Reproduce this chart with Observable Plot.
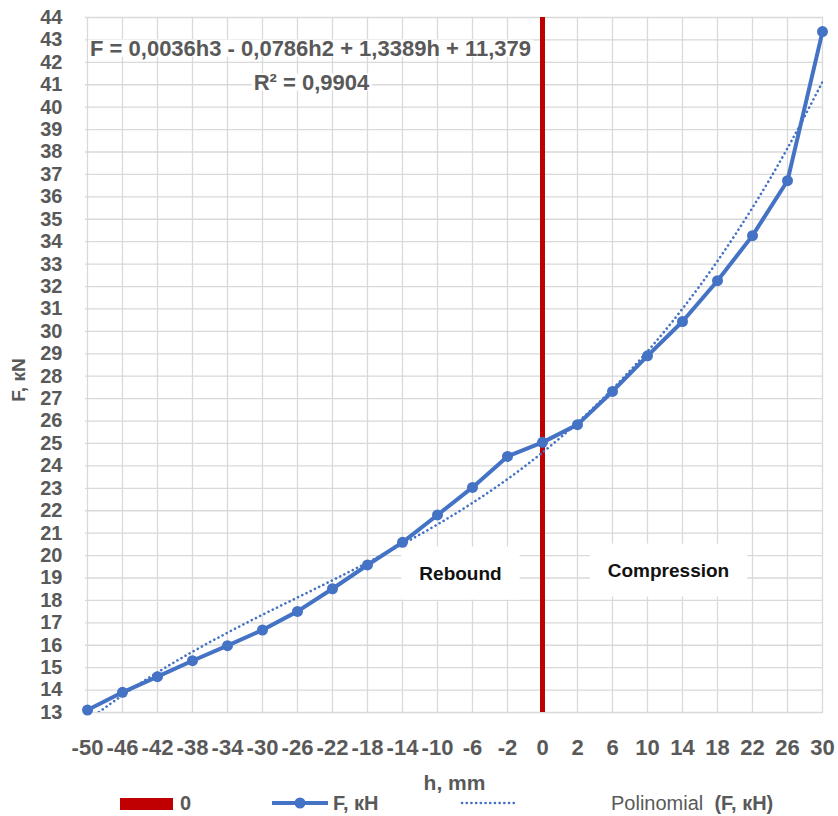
<!DOCTYPE html>
<html><head><meta charset="utf-8">
<script src="https://cdn.jsdelivr.net/npm/d3@7"></script>
<script src="https://cdn.jsdelivr.net/npm/@observablehq/plot@0.6"></script>
<style>
body{margin:0;background:#fff;}
#wrap{width:838px;position:relative;font-family:"Liberation Sans",Arial,sans-serif;}
#legend{position:relative;width:838px;height:26px;color:#595959;font-family:"Liberation Sans",Arial,sans-serif;}
#legend .it{position:absolute;top:0;height:26px;line-height:26px;font-size:20px;font-weight:bold;white-space:pre;}
#legend svg{position:absolute;top:0;}
</style></head><body>
<div id="wrap"><div id="chart"></div><div id="legend"></div></div>
<script>
// ---- data ----
const hLabels = ["-50","-46","-42","-38","-34","-30","-26","-22","-18","-14","-10","-6","-2","0","2","6","10","14","18","22","26","30"];
const forceValues = [13.11,13.90,14.60,15.31,15.98,16.68,17.51,18.52,19.58,20.59,21.81,23.04,24.42,25.05,25.84,27.32,28.91,30.44,32.26,34.27,36.72,43.37];
const trendValues = [12.64,13.77,14.79,15.71,16.56,17.36,18.13,18.90,19.69,20.51,21.39,22.35,23.41,24.60,25.93,27.43,29.11,31.01,33.14,35.52,38.17,41.13];
const yTicks = d3.range(13, 45);
const zeroLine = ["0"];
const equationLines = ["F = 0,0036h3 - 0,0786h2 + 1,3389h + 11,379", "R² = 0,9904"];
const regionLabels = ["Rebound", "Compression"];
const axisTitles = ["h, mm", "F, кN"];
const legendLabels = ["0", "F, кН", "Polinomial", "(F, кН)"];

const series = hLabels.map((h, i) => ({h, F: forceValues[i]}));
const trend = hLabels.map((h, i) => ({h, F: trendValues[i]}));

const BLUE = "#4472C4", RED = "#C00000", GRID = "#d9d9d9", FONT = "'Liberation Sans', Arial, sans-serif";

const chart = Plot.plot({
  width: 838, height: 790,
  marginLeft: 85, marginRight: 15, marginTop: 17, marginBottom: 78,
  style: {fontFamily: FONT, fontSize: "20px", fontWeight: "bold", color: "#595959", background: "#fff", overflow: "visible"},
  x: {type: "point", domain: hLabels, padding: 0, label: null},
  y: {domain: [13, 44], label: null},
  marks: [
    Plot.ruleY(yTicks, {stroke: GRID, strokeWidth: 1.3}),
    Plot.ruleX(hLabels, {stroke: GRID, strokeWidth: 1.3}),
    Plot.axisY({ticks: yTicks, tickSize: 0, tickPadding: 23, fontSize: 20, fontWeight: "bold"}),
    Plot.axisX({tickSize: 0, tickPadding: 27, fontSize: 22, fontWeight: "bold"}),
    Plot.text([axisTitles[0]], {text: d => d, frameAnchor: "bottom", dy: 71, lineAnchor: "middle", textAnchor: "middle", fontSize: 21, fontWeight: "bold", fill: "#595959"}),
    Plot.text([axisTitles[1]], {text: d => d, frameAnchor: "left", rotate: -90, dx: -67, dy: 15, lineAnchor: "middle", textAnchor: "middle", fontSize: 19, fontWeight: "bold", fill: "#595959"}),
    Plot.text([equationLines[0]], {text: d => d, frameAnchor: "top-left", dx: 225, dy: 31, lineAnchor: "middle", textAnchor: "middle", fontSize: 22, fontWeight: "bold", fill: "#595959", className: "eqbox"}),
    Plot.text([equationLines[1]], {text: d => d, frameAnchor: "top-left", dx: 226, dy: 65, lineAnchor: "middle", textAnchor: "middle", fontSize: 22, fontWeight: "bold", fill: "#595959", className: "eqbox"}),
    Plot.text([regionLabels[0]], {text: d => d, frameAnchor: "top-left", dx: 375, dy: 556, lineAnchor: "middle", textAnchor: "middle", fontSize: 19, fontWeight: "bold", fill: "#111", className: "regbox"}),
    Plot.text([regionLabels[1]], {text: d => d, frameAnchor: "top-left", dx: 583, dy: 553, lineAnchor: "middle", textAnchor: "middle", fontSize: 19, fontWeight: "bold", fill: "#111", className: "regbox"}),
    Plot.ruleX(zeroLine, {stroke: RED, strokeWidth: 5}),
    Plot.line(trend, {x: "h", y: "F", stroke: BLUE, strokeWidth: 2.6, strokeDasharray: "0.1 4.6", strokeLinecap: "round", curve: "natural", clip: true}),
    Plot.line(series, {x: "h", y: "F", stroke: BLUE, strokeWidth: 4, strokeLinejoin: "round"}),
    Plot.dot(series, {x: "h", y: "F", r: 5.5, fill: BLUE})
  ]
});
document.getElementById("chart").append(chart);

// white backgrounds behind annotation texts
function addBoxes(cls, padX, padY) {
  chart.querySelectorAll("g." + cls + " text").forEach(t => {
    const b = t.getBBox();
    const r = document.createElementNS("http://www.w3.org/2000/svg", "rect");
    r.setAttribute("x", b.x - padX);
    r.setAttribute("y", b.y - padY);
    r.setAttribute("width", b.width + 2 * padX);
    r.setAttribute("height", b.height + 2 * padY);
    r.setAttribute("fill", "#fff");
    if (t.getAttribute("transform")) r.setAttribute("transform", t.getAttribute("transform"));
    t.parentNode.insertBefore(r, t);
  });
}
addBoxes("eqbox", 2, -4);
addBoxes("regbox", 18, 16);

// legend
const lg = d3.select("#legend");
lg.append("div").style("position", "absolute").style("left", "120px").style("top", "8px")
  .style("width", "53px").style("height", "12px").style("background", RED);
lg.append("div").attr("class", "it").style("left", "180px").text(legendLabels[0]);
const s1 = lg.append("svg").attr("width", 58).attr("height", 26).style("left", "271px");
s1.append("line").attr("x1", 1).attr("x2", 57).attr("y1", 13).attr("y2", 13).attr("stroke", BLUE).attr("stroke-width", 4);
s1.append("circle").attr("cx", 29).attr("cy", 13).attr("r", 5.5).attr("fill", BLUE);
lg.append("div").attr("class", "it").style("left", "333px").text(legendLabels[1]);
const s2 = lg.append("svg").attr("width", 56).attr("height", 26).style("left", "460px");
s2.append("line").attr("x1", 2).attr("x2", 54).attr("y1", 13).attr("y2", 13).attr("stroke", BLUE)
  .attr("stroke-width", 2.6).attr("stroke-dasharray", "0.1 4.6").attr("stroke-linecap", "round");
const t3 = lg.append("div").attr("class", "it").style("left", "611px");
t3.append("span").style("font-weight", "normal").text(legendLabels[2] + "  ");
t3.append("span").text(legendLabels[3]);
</script>
</body></html>
